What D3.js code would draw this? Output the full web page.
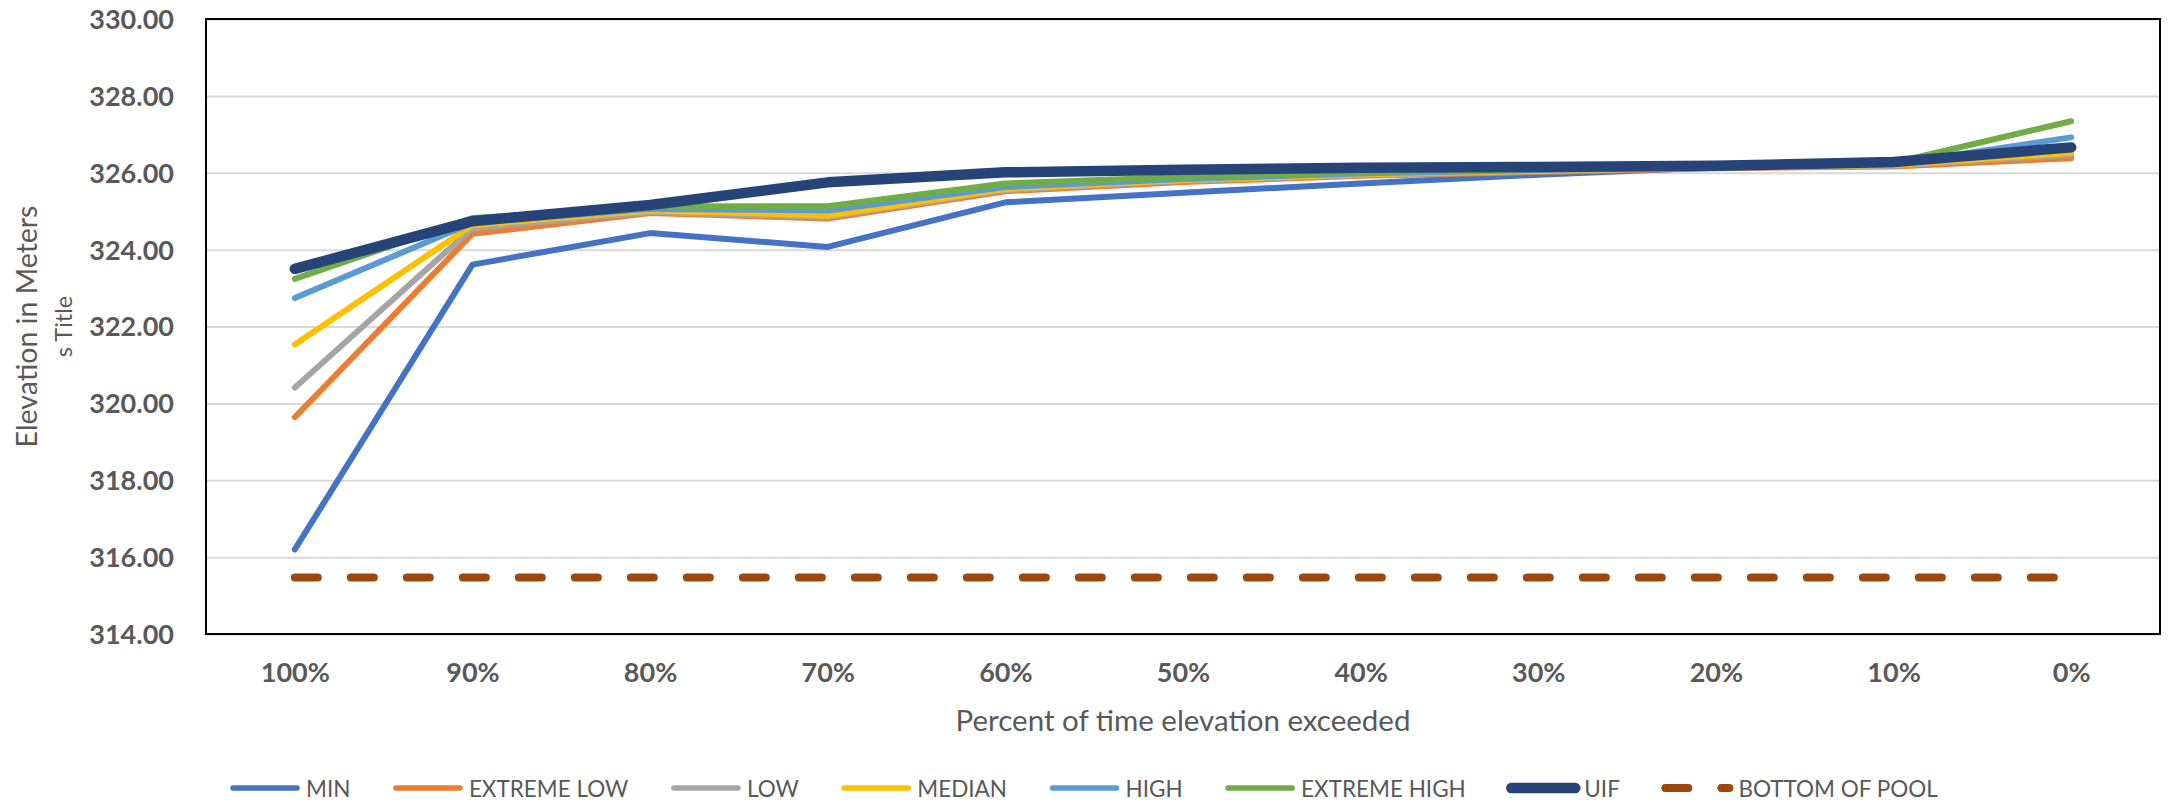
<!DOCTYPE html>
<html>
<head>
<meta charset="utf-8">
<script src="https://cdn.jsdelivr.net/npm/d3@7/dist/d3.min.js"></script>
<style>
  html, body { margin: 0; padding: 0; background: #ffffff; }
  svg { display: block; }
  text { font-family: Lato, "Open Sans", "Liberation Sans", sans-serif; fill: #595959; }
</style>
</head>
<body>
<svg id="chart" width="2182" height="801"></svg>
<script>
// Percent of time each elevation is exceeded
const categories = ["100%", "90%", "80%", "70%", "60%", "50%", "40%", "30%", "20%", "10%", "0%"];

// Pool elevation (m) for each flow scenario
const minValues         = [316.20, 323.61, 324.43, 324.07, 325.23, 325.48, 325.72, 325.95, 326.14, 326.18, 326.42];
const extremeLowValues  = [319.64, 324.41, 324.95, 324.81, 325.52, 325.76, 325.92, 326.02, 326.12, 326.16, 326.38];
const lowValues         = [320.41, 324.56, 324.98, 324.85, 325.55, 325.79, 325.94, 326.04, 326.13, 326.18, 326.47];
const medianValues      = [321.53, 324.64, 325.02, 324.89, 325.58, 325.81, 325.96, 326.05, 326.14, 326.20, 326.52];
const highValues        = [322.74, 324.70, 325.06, 325.02, 325.63, 325.84, 325.98, 326.07, 326.15, 326.22, 326.92];
const extremeHighValues = [323.24, 324.82, 325.12, 325.13, 325.72, 325.89, 326.01, 326.09, 326.16, 326.26, 327.34];
const uifValues         = [323.50, 324.74, 325.16, 325.75, 326.01, 326.08, 326.13, 326.15, 326.18, 326.28, 326.66];
const bottomOfPool      = [315.47, 315.47, 315.47, 315.47, 315.47, 315.47, 315.47, 315.47, 315.47, 315.47, 315.47];

const seriesNames = ["MIN", "EXTREME LOW", "LOW", "MEDIAN", "HIGH", "EXTREME HIGH", "UIF", "BOTTOM OF POOL"];
const yTickValues = [314, 316, 318, 320, 322, 324, 326, 328, 330];

// styling per series
const seriesStyle = [
  { color: "#4472C4", width: 6 },
  { color: "#ED7D31", width: 6 },
  { color: "#A5A5A5", width: 6 },
  { color: "#FFC000", width: 6 },
  { color: "#5B9BD5", width: 6 },
  { color: "#70AD47", width: 6 },
  { color: "#264478", width: 10.5 },
  { color: "#9E480E", width: 8, dash: "23 33" }
];

const seriesValues = [minValues, extremeLowValues, lowValues, medianValues, highValues,
                      extremeHighValues, uifValues, bottomOfPool];
const series = seriesNames.map((name, i) => ({
  name,
  values: seriesValues[i].map((v, j) => ({ cat: categories[j], v })),
  style: seriesStyle[i]
}));

const svg = d3.select("#chart");
const plot = { left: 206, right: 2160, top: 19, bottom: 634 };

const x = d3.scalePoint().domain(categories).range([plot.left, plot.right]).padding(0.5);
const y = d3.scaleLinear().domain([314, 330]).range([plot.bottom, plot.top]);

// horizontal gridlines
const grid = svg.append("g")
  .attr("transform", `translate(${plot.left},0)`)
  .call(d3.axisLeft(y).tickValues(yTickValues).tickSize(-(plot.right - plot.left)).tickFormat(""));
grid.select(".domain").remove();
grid.selectAll(".tick line").attr("stroke", "#D9D9D9").attr("stroke-width", 2);

// y axis labels
const yAxis = svg.append("g")
  .attr("transform", `translate(${plot.left},0)`)
  .call(d3.axisLeft(y).tickValues(yTickValues).tickSize(0).tickPadding(32).tickFormat(d3.format(".2f")));
yAxis.select(".domain").remove();
yAxis.selectAll(".tick text")
  .attr("font-size", 27).attr("font-weight", 700)
  .style("font-family", "Lato, sans-serif").style("fill", "#595959")
  .attr("dy", "0.35em");

// x axis labels
const xAxis = svg.append("g")
  .attr("transform", `translate(0,${plot.bottom})`)
  .call(d3.axisBottom(x).tickSize(0).tickPadding(29));
xAxis.select(".domain").remove();
xAxis.selectAll(".tick text")
  .attr("font-size", 27).attr("font-weight", 700)
  .style("font-family", "Lato, sans-serif").style("fill", "#595959");

// data lines
const line = d3.line().x(d => x(d.cat)).y(d => y(d.v));
const lines = svg.append("g");
series.forEach(s => {
  lines.append("path")
    .datum(s.values)
    .attr("d", line)
    .attr("fill", "none")
    .attr("stroke", s.style.color)
    .attr("stroke-width", s.style.width)
    .attr("stroke-linecap", "round")
    .attr("stroke-linejoin", "round")
    .attr("stroke-dasharray", s.style.dash || null);
});

// plot area frame
svg.append("rect")
  .attr("x", plot.left).attr("y", plot.top)
  .attr("width", plot.right - plot.left).attr("height", plot.bottom - plot.top)
  .attr("fill", "none").attr("stroke", "#000").attr("stroke-width", 2);

// axis titles
const midY = (plot.top + plot.bottom) / 2;
svg.append("text")
  .attr("transform", `translate(37,${midY}) rotate(-90)`)
  .attr("text-anchor", "middle")
  .attr("font-size", 28.5)
  .text("Elevation in Meters");
svg.append("text")
  .attr("transform", `translate(72,${midY}) rotate(-90)`)
  .attr("text-anchor", "middle")
  .attr("font-size", 23.5)
  .text("s Title");
svg.append("text")
  .attr("x", (plot.left + plot.right) / 2)
  .attr("y", 731)
  .attr("text-anchor", "middle")
  .attr("font-size", 29.5)
  .text("Percent of time elevation exceeded");

// legend
const legend = svg.append("g");
const swatchLen = 72, textGap = 5, itemGap = 41.5, legendY = 788;
let lx = 229;
series.forEach(s => {
  const item = legend.append("g");
  item.append("line")
    .attr("x1", lx + 4).attr("x2", lx + swatchLen - 4)
    .attr("y1", legendY).attr("y2", legendY)
    .attr("stroke", s.style.color)
    .attr("stroke-width", s.name === "UIF" ? 10.5 : (s.style.dash ? 8 : 5.5))
    .attr("stroke-linecap", "round")
    .attr("stroke-dasharray", s.style.dash || null);
  const t = item.append("text")
    .attr("x", lx + swatchLen + textGap)
    .attr("y", legendY + 8.5)
    .attr("font-size", 22.5)
    .text(s.name);
  lx += swatchLen + textGap + t.node().getComputedTextLength() + itemGap;
});
</script>
</body>
</html>
